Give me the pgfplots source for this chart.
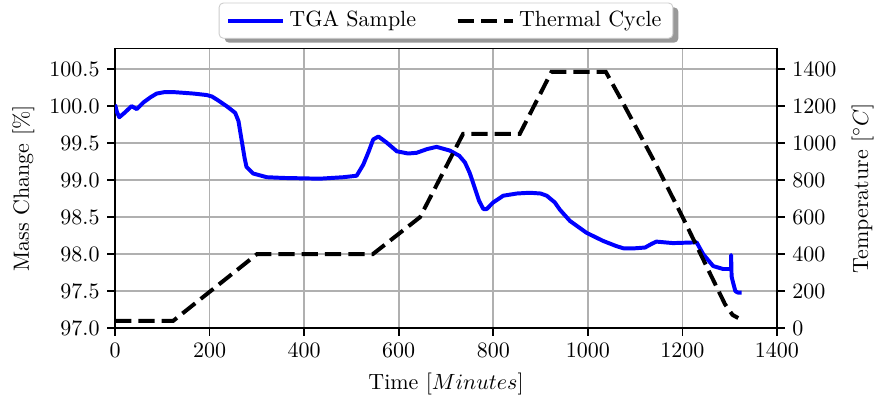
\documentclass[border=0pt]{standalone}
\usepackage{pgfplots}
\pgfplotsset{compat=1.18}
\usetikzlibrary{shadows}
\definecolor{gridgray}{RGB}{176,176,176}
\makeatletter
\tikzset{no preactions/.code={\let\tikz@preactions\pgfutil@empty}}
\makeatother
\pgfplotstableread{
t m
0 100.02
4 99.92
9 99.85
20 99.91
35 100.00
46 99.96
60 100.05
75 100.12
88 100.17
105 100.19
123 100.19
145 100.18
166 100.17
194 100.15
205 100.13
215 100.09
236 100.00
254 99.91
261 99.80
268 99.53
274 99.30
278 99.18
292 99.09
321 99.04
356 99.03
433 99.02
483 99.04
511 99.06
525 99.21
536 99.38
546 99.55
557 99.59
574 99.51
596 99.39
620 99.36
638 99.37
660 99.42
680 99.45
708 99.40
728 99.33
740 99.24
750 99.10
758 98.95
770 98.72
779 98.61
786 98.61
800 98.70
821 98.79
850 98.82
877 98.83
900 98.82
913 98.79
930 98.70
941 98.60
962 98.45
997 98.29
1032 98.18
1060 98.11
1075 98.08
1100 98.08
1121 98.09
1135 98.14
1145 98.17
1180 98.15
1230 98.16
1244 98.00
1265 97.84
1286 97.80
1303 97.80
1303 97.99
1304 97.70
1307 97.62
1312 97.50
1318 97.48
1325 97.48
}\massdata
\pgfplotstableread{
t T
0 40
123 40
300 400
545 400
645 600
736 1050
856 1050
923 1385
1038 1385
1068 1247
1145 880
1201 597
1290 130
1306 72
1318 55
}\tempdata
\begin{document}
\begin{tikzpicture}
\path[use as bounding box] (-52.3pt,-34pt) rectangle (345pt,149.2pt);
\pgfplotsset{
  common/.style={scale only axis, width=300.9pt, height=127.2pt,
    xmin=0, xmax=1400,
    tick align=outside, major tick length=3.5pt,
    every tick/.style={black, line width=0.8pt},
    axis line style={line width=0.8pt},
    /pgf/number format/1000 sep={}},
}
\begin{axis}[common,
  ymin=97, ymax=100.78,
  xtick={0,200,400,600,800,1000,1200,1400},
  ytick={97,97.5,98,98.5,99,99.5,100,100.5},
  xtick pos=bottom, ytick pos=left,
  yticklabel style={/pgf/number format/.cd, fixed, fixed zerofill, precision=1},
  grid=major, major grid style={gridgray, line width=0.8pt},
  xlabel={Time [$Minutes$]}, ylabel={Mass Change [\%]},
  legend columns=2,
  legend image code/.code={\draw[no preactions,#1] (0pt,0pt) -- (20.5pt,0pt); \path[no preactions] (0pt,0pt) -- (25pt,0pt);},
  legend style={at={(0.5,1)}, yshift=4.4pt, anchor=south,
    draw=black!20, rounded corners=2pt, fill=white,
    drop shadow={shadow xshift=2.5pt, shadow yshift=-2pt, fill=black!40, opacity=1},
    nodes={no preactions, inner ysep=2.5pt},
    /tikz/every even column/.append style={column sep=16pt},
    inner xsep=3.2pt, inner ysep=1.2pt},
]
\addplot[blue, line width=1.8pt, line join=round] table[x=t,y=m] {\massdata};
\addlegendentry{TGA Sample}
\addlegendimage{black, line width=1.8pt, dash pattern=on 7.4pt off 3.2pt}
\addlegendentry{Thermal Cycle}
\end{axis}
\begin{axis}[common,
  ymin=0, ymax=1512,
  axis x line=none, axis y line*=right,
  ytick={0,200,400,600,800,1000,1200,1400},
  ylabel={Temperature [$^\circ C$]},
]
\addplot[black, line width=1.8pt, dash pattern=on 7.4pt off 3.2pt] table[x=t,y=T] {\tempdata};
\end{axis}
\end{tikzpicture}
\end{document}
